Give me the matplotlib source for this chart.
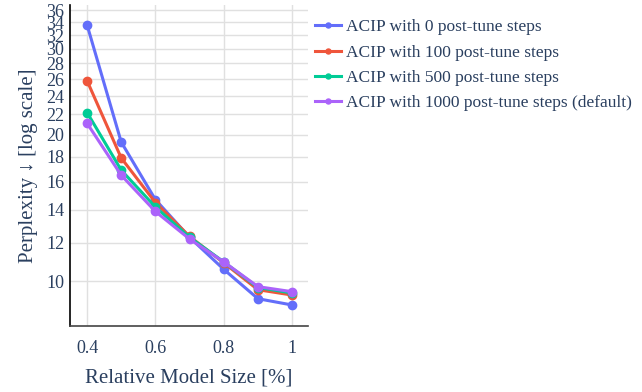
import numpy as np
import matplotlib
matplotlib.use("Agg")
import matplotlib.pyplot as plt
from matplotlib.ticker import FixedLocator, NullLocator

plt.rcParams['font.family'] = ['Liberation Serif', 'DejaVu Serif']

# data
sizes = [0.4, 0.5, 0.6, 0.7, 0.8, 0.9, 1.0]
ppl_0 = [33.6, 19.3, 14.7, 12.3, 10.57, 9.2, 8.93]
ppl_100 = [25.8, 17.9, 14.5, 12.35, 10.9, 9.6, 9.36]
ppl_500 = [22.2, 16.9, 14.2, 12.3, 10.95, 9.7, 9.45]
ppl_1000 = [21.1, 16.5, 13.9, 12.2, 10.95, 9.74, 9.51]
labels = ['ACIP with 0 post-tune steps',
          'ACIP with 100 post-tune steps',
          'ACIP with 500 post-tune steps',
          'ACIP with 1000 post-tune steps (default)']
colors = ['#636efa', '#ef553b', '#00cc96', '#ab63fa']
yticks = [10, 12, 14, 16, 18, 20, 22, 24, 26, 28, 30, 32, 34, 36]
xticks = [0.4, 0.6, 0.8, 1.0]
xticklabels = ['0.4', '0.6', '0.8', '1']

txt = '#2a3f5f'

fig = plt.figure(figsize=(6.42, 3.92), dpi=100)
ax = fig.add_axes([0.109, 0.168, 0.371, 0.819])

for ys, c, l in zip([ppl_0, ppl_100, ppl_500, ppl_1000], colors, labels):
    ax.plot(sizes, ys, color=c, lw=2.2, marker='o', ms=6, label=l, zorder=3)

ax.set_yscale('log')
ax.set_ylim(8.08, 36.9)
ax.set_xlim(0.35, 1.047)
ax.yaxis.set_major_locator(FixedLocator(yticks))
ax.yaxis.set_minor_locator(NullLocator())
ax.set_yticklabels([str(t) for t in yticks])
ax.set_xticks(xticks)
ax.set_xticklabels(xticklabels)

ax.grid(True, color='#e0e0e0', lw=1, zorder=0)
for s in ['top', 'right']:
    ax.spines[s].set_visible(False)
ax.spines['left'].set_color('black')
ax.spines['left'].set_linewidth(1.2)
ax.spines['bottom'].set_color('#444444')
ax.spines['bottom'].set_linewidth(1.2)
ax.tick_params(axis='y', length=0, labelsize=13, labelcolor=txt, pad=4)
ax.tick_params(axis='x', length=0, labelsize=13, labelcolor=txt, pad=10)

ax.set_xlabel('Relative Model Size [%]', fontsize=15, color=txt, labelpad=8)
ax.set_ylabel('Perplexity ↓ [log scale]', fontsize=15, color=txt, labelpad=6)

ax.legend(loc='upper left', bbox_to_anchor=(1.005, 0.972), frameon=False,
          fontsize=12.5, labelcolor=txt, handlelength=1.5, handletextpad=0.3,
          labelspacing=0.52, borderaxespad=0.0, borderpad=0.3, markerscale=0.6)

fig.savefig('out.png', dpi=100)
